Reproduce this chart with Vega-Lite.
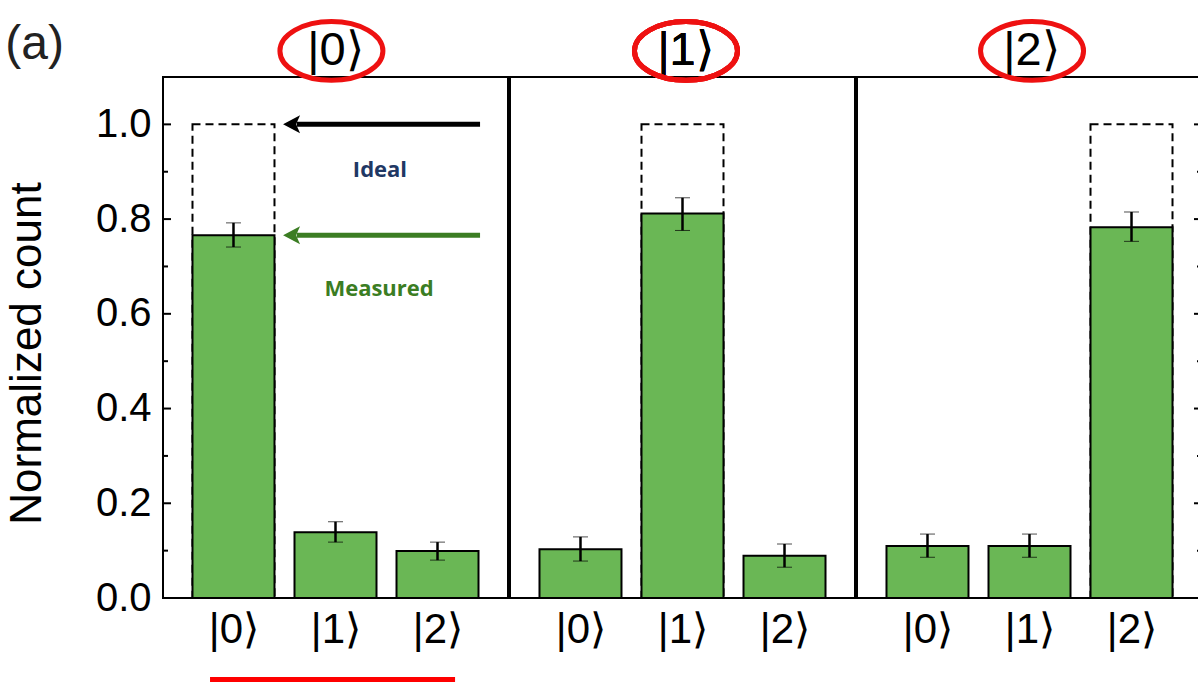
{
  "$schema": "https://vega.github.io/schema/vega-lite/v6.json",
  "background": "white",
  "padding": {"left": 4, "top": 10, "right": -4, "bottom": 0},
  "autosize": {"type": "pad"},
  "config": {
    "view": {"stroke": "black", "strokeWidth": 2},
    "concat": {"spacing": 0},
    "axis": {"labelFont": "Liberation Sans", "titleFont": "Liberation Sans", "labelColor": "black", "titleColor": "black", "tickColor": "black", "grid": false, "domain": false}
  },
  "datasets": {
    "bars": [
      {"prep": 0, "meas": 0, "value": 0.766, "lo": 0.741, "hi": 0.792, "ideal": 1},
      {"prep": 0, "meas": 1, "value": 0.139, "lo": 0.118, "hi": 0.161, "ideal": 0},
      {"prep": 0, "meas": 2, "value": 0.099, "lo": 0.080, "hi": 0.118, "ideal": 0},
      {"prep": 1, "meas": 0, "value": 0.103, "lo": 0.078, "hi": 0.129, "ideal": 0},
      {"prep": 1, "meas": 1, "value": 0.812, "lo": 0.776, "hi": 0.845, "ideal": 1},
      {"prep": 1, "meas": 2, "value": 0.089, "lo": 0.065, "hi": 0.114, "ideal": 0},
      {"prep": 2, "meas": 0, "value": 0.110, "lo": 0.086, "hi": 0.135, "ideal": 0},
      {"prep": 2, "meas": 1, "value": 0.110, "lo": 0.086, "hi": 0.135, "ideal": 0},
      {"prep": 2, "meas": 2, "value": 0.783, "lo": 0.753, "hi": 0.815, "ideal": 1}
    ],
    "yticks": [
      {"v": 0.0, "major": 1}, {"v": 0.1, "major": 0}, {"v": 0.2, "major": 1}, {"v": 0.3, "major": 0},
      {"v": 0.4, "major": 1}, {"v": 0.5, "major": 0}, {"v": 0.6, "major": 1}, {"v": 0.7, "major": 0},
      {"v": 0.8, "major": 1}, {"v": 0.9, "major": 0}, {"v": 1.0, "major": 1}
    ]
  },
  "resolve": {"scale": {"x": "independent", "y": "independent"}, "axis": {"y": "independent"}},
  "hconcat": [
    {
      "width": 345, "height": 521,
      "layer": [
        {
          "data": {"name": "bars"},
          "transform": [{"filter": "datum.prep == 0 && datum.ideal > 0"}],
          "mark": {"type": "bar", "orient": "vertical", "width": 82, "fill": "white", "fillOpacity": 0, "stroke": "black", "strokeWidth": 2, "strokeDash": [8, 5]},
          "encoding": {
            "x": {"field": "meas", "type": "quantitative", "scale": {"domain": [-0.691, 2.691], "nice": false, "zero": false, "padding": 0},
                  "axis": {"title": null, "values": [0, 1, 2], "labelExpr": "'|' + datum.value + '⟩'", "ticks": false, "labelFontSize": 42, "labelPadding": 11}},
            "y": {"field": "ideal", "type": "quantitative", "title": "Normalized count", "scale": {"domain": [0, 1.1], "nice": false, "padding": 0},
                  "axis": {"title": "Normalized count", "titleFontSize": 44, "titleFontWeight": "normal", "titlePadding": 46, "titleY": 276,
                           "values": [0, 0.2, 0.4, 0.6, 0.8, 1.0], "format": ".1f",
                           "labelFontSize": 40, "labelPadding": 12, "ticks": false}}
          }
        },
        {
          "data": {"name": "bars"},
          "transform": [{"filter": "datum.prep == 0"}],
          "mark": {"type": "bar", "orient": "vertical", "width": 82, "fill": "#6ab755", "stroke": "black", "strokeWidth": 2},
          "encoding": {"x": {"field": "meas", "type": "quantitative"}, "y": {"field": "value", "type": "quantitative", "title": "Normalized count"}}
        },
        {
          "data": {"name": "bars"},
          "transform": [{"filter": "datum.prep == 0"}],
          "mark": {"type": "errorbar", "ticks": {"size": 15, "strokeWidth": 2.5, "color": "black"}, "rule": {"strokeWidth": 2.5, "color": "black"}},
          "encoding": {"x": {"field": "meas", "type": "quantitative"}, "y": {"field": "lo", "type": "quantitative", "title": "Normalized count"}, "y2": {"field": "hi"}}
        },
        {
          "data": {"name": "yticks"},
          "transform": [{"filter": "datum.major == 1"}],
          "mark": {"type": "tick", "orient": "horizontal", "size": 8, "thickness": 2, "xOffset": 4, "color": "black", "opacity": 1},
          "encoding": {"x": {"datum": -0.691}, "y": {"field": "v", "type": "quantitative", "title": "Normalized count"}}
        },
        {
          "data": {"name": "yticks"},
          "transform": [{"filter": "datum.major == 0"}],
          "mark": {"type": "tick", "orient": "horizontal", "size": 5, "thickness": 2, "xOffset": 2.5, "color": "black", "opacity": 1},
          "encoding": {"x": {"datum": -0.691}, "y": {"field": "v", "type": "quantitative", "title": "Normalized count"}}
        },
        {
          "data": {"values": [{}]},
          "layer": [
            {
              "mark": {"type": "text", "font": "Liberation Sans", "fontSize": 47, "color": "black", "clip": false},
              "encoding": {"x": {"datum": 1.0}, "y": {"datum": 1.154}, "text": {"value": "|0⟩"}}
            },
            {
              "mark": {"type": "point", "shape": "M -1 0 A 1 0.57 0 1 0 1 0 A 1 0.57 0 1 0 -1 0 Z", "size": 10609, "stroke": "#ee1111", "strokeWidth": 5, "filled": false, "opacity": 1, "clip": false},
              "encoding": {"x": {"datum": 0.96}, "y": {"datum": 1.155}}
            },
            {
              "mark": {"type": "text", "font": "Liberation Sans", "fontSize": 48, "color": "#222222", "clip": false},
              "encoding": {"x": {"datum": -1.95}, "y": {"datum": 1.168}, "text": {"value": "(a)"}}
            },
            {
              "mark": {"type": "rule", "color": "black", "strokeWidth": 5},
              "encoding": {"x": {"datum": 0.62}, "x2": {"datum": 2.417}, "y": {"datum": 1.0}}
            },
            {
              "mark": {"type": "point", "shape": "M -1 0 L 0.7 -0.9 L 0.3 0 L 0.7 0.9 Z", "size": 400, "filled": true, "color": "black", "opacity": 1},
              "encoding": {"x": {"datum": 0.584}, "y": {"datum": 1.0}}
            },
            {
              "mark": {"type": "rule", "color": "#3b7d23", "strokeWidth": 5},
              "encoding": {"x": {"datum": 0.62}, "x2": {"datum": 2.417}, "y": {"datum": 0.766}}
            },
            {
              "mark": {"type": "point", "shape": "M -1 0 L 0.7 -0.9 L 0.3 0 L 0.7 0.9 Z", "size": 400, "filled": true, "color": "#3b7d23", "opacity": 1},
              "encoding": {"x": {"datum": 0.584}, "y": {"datum": 0.766}}
            },
            {
              "mark": {"type": "text", "font": "Open Sans", "fontWeight": "bold", "fontSize": 22, "color": "#1f3864"},
              "encoding": {"x": {"datum": 1.436}, "y": {"datum": 0.903}, "text": {"value": "Ideal"}}
            },
            {
              "mark": {"type": "text", "font": "Open Sans", "fontWeight": "bold", "fontSize": 22, "color": "#3b7d23"},
              "encoding": {"x": {"datum": 1.427}, "y": {"datum": 0.652}, "text": {"value": "Measured"}}
            },
            {
              "mark": {"type": "rule", "color": "#ff0000", "strokeWidth": 5, "clip": false},
              "encoding": {"x": {"datum": -0.23}, "x2": {"datum": 2.172}, "y": {"datum": -0.172}}
            }
          ]
        }
      ]
    },
    {
      "width": 345, "height": 521,
      "data": {"name": "bars"},
      "transform": [{"filter": "datum.prep == 1"}],
      "layer": [
        {
          "transform": [{"filter": "datum.ideal > 0"}],
          "mark": {"type": "bar", "orient": "vertical", "width": 82, "fill": "white", "fillOpacity": 0, "stroke": "black", "strokeWidth": 2, "strokeDash": [8, 5]},
          "encoding": {
            "x": {"field": "meas", "type": "quantitative", "scale": {"domain": [-0.691, 2.691], "nice": false, "zero": false, "padding": 0},
                  "axis": {"title": null, "values": [0, 1, 2], "labelExpr": "'|' + datum.value + '⟩'", "ticks": false, "labelFontSize": 42, "labelPadding": 11}},
            "y": {"field": "ideal", "type": "quantitative", "scale": {"domain": [0, 1.1], "nice": false, "padding": 0}, "axis": null}
          }
        },
        {
          "mark": {"type": "bar", "orient": "vertical", "width": 82, "fill": "#6ab755", "stroke": "black", "strokeWidth": 2},
          "encoding": {"x": {"field": "meas", "type": "quantitative"}, "y": {"field": "value", "type": "quantitative"}}
        },
        {
          "mark": {"type": "errorbar", "ticks": {"size": 15, "strokeWidth": 2.5, "color": "black"}, "rule": {"strokeWidth": 2.5, "color": "black"}},
          "encoding": {"x": {"field": "meas", "type": "quantitative"}, "y": {"field": "lo", "type": "quantitative"}, "y2": {"field": "hi"}}
        },
        {
          "mark": {"type": "text", "font": "Liberation Sans", "fontSize": 47, "color": "black", "clip": false},
          "encoding": {"x": {"datum": 1.03}, "y": {"datum": 1.154}, "text": {"value": "|1⟩"}}
        },
        {
          "mark": {"type": "point", "shape": "M -1 0 A 1 0.57 0 1 0 1 0 A 1 0.57 0 1 0 -1 0 Z", "size": 10609, "stroke": "#ee1111", "strokeWidth": 5, "filled": false, "opacity": 1, "clip": false},
          "encoding": {"x": {"datum": 1.034}, "y": {"datum": 1.155}}
        }
      ]
    },
    {
      "width": 345, "height": 521,
      "layer": [
        {
          "data": {"name": "bars"},
          "transform": [{"filter": "datum.prep == 2 && datum.ideal > 0"}],
          "mark": {"type": "bar", "orient": "vertical", "width": 82, "fill": "white", "fillOpacity": 0, "stroke": "black", "strokeWidth": 2, "strokeDash": [8, 5]},
          "encoding": {
            "x": {"field": "meas", "type": "quantitative", "scale": {"domain": [-0.691, 2.691], "nice": false, "zero": false, "padding": 0},
                  "axis": {"title": null, "values": [0, 1, 2], "labelExpr": "'|' + datum.value + '⟩'", "ticks": false, "labelFontSize": 42, "labelPadding": 11}},
            "y": {"field": "ideal", "type": "quantitative", "scale": {"domain": [0, 1.1], "nice": false, "padding": 0}, "axis": null}
          }
        },
        {
          "data": {"name": "bars"},
          "transform": [{"filter": "datum.prep == 2"}],
          "mark": {"type": "bar", "orient": "vertical", "width": 82, "fill": "#6ab755", "stroke": "black", "strokeWidth": 2},
          "encoding": {"x": {"field": "meas", "type": "quantitative"}, "y": {"field": "value", "type": "quantitative"}}
        },
        {
          "data": {"name": "bars"},
          "transform": [{"filter": "datum.prep == 2"}],
          "mark": {"type": "errorbar", "ticks": {"size": 15, "strokeWidth": 2.5, "color": "black"}, "rule": {"strokeWidth": 2.5, "color": "black"}},
          "encoding": {"x": {"field": "meas", "type": "quantitative"}, "y": {"field": "lo", "type": "quantitative"}, "y2": {"field": "hi"}}
        },
        {
          "data": {"name": "yticks"},
          "transform": [{"filter": "datum.major == 1"}],
          "mark": {"type": "tick", "orient": "horizontal", "size": 8, "thickness": 2, "xOffset": -4, "color": "black", "opacity": 1},
          "encoding": {"x": {"datum": 2.691}, "y": {"field": "v", "type": "quantitative"}}
        },
        {
          "data": {"name": "yticks"},
          "transform": [{"filter": "datum.major == 0"}],
          "mark": {"type": "tick", "orient": "horizontal", "size": 5, "thickness": 2, "xOffset": -2.5, "color": "black", "opacity": 1},
          "encoding": {"x": {"datum": 2.691}, "y": {"field": "v", "type": "quantitative"}}
        },
        {
          "data": {"values": [{}]},
          "layer": [
            {
              "mark": {"type": "text", "font": "Liberation Sans", "fontSize": 47, "color": "black", "clip": false},
              "encoding": {"x": {"datum": 1.02}, "y": {"datum": 1.154}, "text": {"value": "|2⟩"}}
            },
            {
              "mark": {"type": "point", "shape": "M -1 0 A 1 0.57 0 1 0 1 0 A 1 0.57 0 1 0 -1 0 Z", "size": 10609, "stroke": "#ee1111", "strokeWidth": 5, "filled": false, "opacity": 1, "clip": false},
              "encoding": {"x": {"datum": 1.025}, "y": {"datum": 1.155}}
            }
          ]
        }
      ]
    }
  ]
}
